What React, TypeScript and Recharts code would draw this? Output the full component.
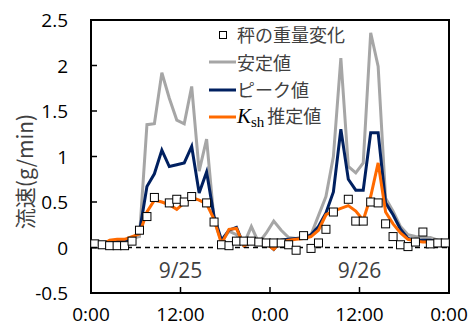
import {
  ComposedChart,
  Line,
  Scatter,
  XAxis,
  YAxis,
  ReferenceLine,
  ReferenceArea,
  ReferenceDot,
  Legend,
} from "recharts";

// hours since 9/25 0:00 (hourly values, plotted mid-hour)
const hours = [
  0.5, 1.5, 2.5, 3.5, 4.5, 5.5, 6.5, 7.5, 8.5, 9.5, 10.5, 11.5,
  12.5, 13.5, 14.5, 15.5, 16.5, 17.5, 18.5, 19.5, 20.5, 21.5, 22.5, 23.5,
  24.5, 25.5, 26.5, 27.5, 28.5, 29.5, 30.5, 31.5, 32.5, 33.5, 34.5, 35.5,
  36.5, 37.5, 38.5, 39.5, 40.5, 41.5, 42.5, 43.5, 44.5, 45.5, 46.5, 47.5,
];

// 秤の重量変化
const scaleChange = [
  0.04, 0.03, 0.02, 0.02, 0.02, 0.07, 0.19, 0.34, 0.55, null, 0.49, 0.53,
  0.5, 0.56, null, 0.49, 0.28, 0.03, 0.02, 0.07, 0.07, 0.07, 0.06, 0.05,
  0.05, 0.05, 0.03, -0.03, 0.13, -0.01, 0.05, 0.2, 0.39, null, 0.53, 0.29,
  0.29, 0.5, 0.49, 0.26, 0.12, 0.03, 0.01, 0.06, 0.17, 0.04, 0.05, 0.05,
];

// 安定値
const stableValue = [
  0.0, 0.02, 0.05, 0.07, 0.08, 0.1, 0.12, 1.35, 1.36, 1.92, 1.64, 1.4,
  1.36, 1.77, 0.84, 1.19, 0.3, 0.06, 0.18, 0.14, 0.04, 0.23, 0.05, 0.16,
  0.29, 0.19, 0.11, 0.1, 0.12, 0.14, 0.35, 0.56, 1.0, 2.08, 0.89, 0.82,
  0.93, 2.36, 1.99, 0.54, 0.4, 0.23, 0.14, 0.12, 0.11, 0.11, 0.08, 0.04,
];

// ピーク値
const peakValue = [
  0.01, 0.02, 0.06, 0.07, 0.08, 0.1, 0.17, 0.67, 0.81, 1.07, 0.89, 0.91,
  0.93, 1.11, 0.6, 0.83, 0.34, 0.08, 0.19, 0.22, 0.02, 0.06, 0.05, 0.05,
  -0.02, 0.08, 0.09, 0.1, 0.1, 0.14, 0.23, 0.38, 0.61, 1.3, 0.75, 0.63,
  0.63, 1.26, 1.26, 0.49, 0.36, 0.2, 0.1, 0.08, 0.08, 0.08, 0.07, 0.04,
];

// Ksh推定値
const kshValue = [
  0.02, 0.03, 0.08, 0.09, 0.09, 0.12, 0.15, 0.39, 0.52, 0.5, 0.47, 0.42,
  0.49, 0.55, 0.52, 0.48, 0.31, 0.04, 0.2, 0.21, 0.02, 0.05, 0.05, 0.04,
  -0.02, 0.06, 0.08, 0.09, 0.1, 0.12, 0.19, 0.36, 0.4, 0.43, 0.46, 0.4,
  0.3, 0.56, 0.93, 0.39, 0.26, 0.16, 0.09, 0.07, 0.06, 0.06, 0.06, 0.04,
];

const xTicks = [0, 12, 24, 36, 48];
const xTickLabels = ["0:00", "12:00", "0:00", "12:00", "0:00"];
const yTicks = [-0.5, 0, 0.5, 1, 1.5, 2, 2.5];
const dayLabels = ["9/25", "9/26"];
const dayCenters = [12, 36];

const GRAY = "#A6A6A6";
const NAVY = "#002060";
const ORANGE = "#FF6A00";
const NUM_FONT = "'Open Sans', sans-serif";
const JP_FONT = "'Noto Sans CJK JP', sans-serif";

const rows = hours.map((h, i) => ({
  h,
  stable: stableValue[i],
  peak: peakValue[i],
  ksh: kshValue[i],
}));
const scaleRows = hours
  .map((h, i) => ({ h, scale: scaleChange[i] }))
  .filter((r) => r.scale !== null);

function XTick({ x, y, payload, index }: any) {
  return (
    <g>
      <line x1={x} y1={y} x2={x} y2={y - 6} stroke="#000" strokeWidth={1.5} />
      <text x={x} y={y + 21} textAnchor="middle" dominantBaseline="central" fontSize={19} fontFamily={NUM_FONT} fill="#000">
        {xTickLabels[index] ?? payload.value}
      </text>
    </g>
  );
}

function YTick({ x, y, payload }: any) {
  return (
    <g>
      <line x1={x} y1={y} x2={x + 6} y2={y} stroke="#000" strokeWidth={1.5} />
      <text x={x - 23} y={y} textAnchor="end" dominantBaseline="central" fontSize={19} fontFamily={NUM_FONT} fill="#000">
        {String(payload.value)}
      </text>
    </g>
  );
}

function YLabel({ viewBox }: any) {
  const cx = viewBox.x + 24;
  const cy = viewBox.y + viewBox.height / 2 + 15;
  return (
    <text
      transform={`translate(${cx}, ${cy}) rotate(-90)`}
      textAnchor="middle"
      dominantBaseline="central"
      fontSize={21}
      fontFamily={JP_FONT}
      fill="#404040"
    >
      流速(g/min)
    </text>
  );
}

function LegendBox() {
  const row: React.CSSProperties = { display: "flex", alignItems: "center", height: 27.5 };
  const icon: React.CSSProperties = { width: 29, display: "flex", justifyContent: "center" };
  const lineIcon = (color: string) => (
    <svg width={27} height={6}>
      <line x1={0} y1={3} x2={27} y2={3} stroke={color} strokeWidth={3} />
    </svg>
  );
  return (
    <div style={{ fontFamily: JP_FONT, fontSize: 18, color: "#404040", lineHeight: "27px", whiteSpace: "nowrap" }}>
      <div style={row}>
        <span style={icon}>
          <svg width={8} height={8}>
            <rect x={0.5} y={0.5} width={7} height={7} fill="#fff" stroke="#000" strokeWidth={1} />
          </svg>
        </span>
        <span>秤の重量変化</span>
      </div>
      <div style={row}>
        <span style={icon}>{lineIcon(GRAY)}</span>
        <span>安定値</span>
      </div>
      <div style={row}>
        <span style={icon}>{lineIcon(NAVY)}</span>
        <span>ピーク値</span>
      </div>
      <div style={row}>
        <span style={icon}>{lineIcon(ORANGE)}</span>
        <span>
          <span style={{ fontFamily: "'Liberation Serif', serif", fontStyle: "italic", fontSize: 21, color: "#000" }}>K</span>
          <span style={{ fontFamily: "'Liberation Serif', serif", fontSize: 15, color: "#000", position: "relative", top: 4 }}>sh</span>
          <span style={{ marginLeft: 3 }}>推定値</span>
        </span>
      </div>
    </div>
  );
}

export default function App() {
  return (
    <div style={{ position: "absolute", left: 0, top: 0, width: 471, height: 333, background: "#fff" }}>
      <ComposedChart width={471} height={333} data={rows} margin={{ top: 20, right: 22, bottom: 0, left: 0 }}>
        <XAxis
          dataKey="h"
          type="number"
          domain={[0, 48]}
          ticks={xTicks}
          interval={0}
          height={40}
          axisLine={false}
          tickLine={false}
          tickSize={0}
          tickMargin={0}
          tick={<XTick />}
        />
        <YAxis
          type="number"
          domain={[-0.5, 2.5]}
          ticks={yTicks}
          interval={0}
          width={91}
          axisLine={false}
          tickLine={false}
          tickSize={0}
          tickMargin={0}
          tick={<YTick />}
          label={<YLabel />}
        />
        <ReferenceLine y={0} stroke="#000" strokeWidth={1.5} strokeDasharray="5 4" />
        <Line dataKey="stable" stroke={GRAY} strokeWidth={3} dot={false} isAnimationActive={false} />
        <Line dataKey="peak" stroke={NAVY} strokeWidth={3} dot={false} isAnimationActive={false} />
        <Line dataKey="ksh" stroke={ORANGE} strokeWidth={3} dot={false} isAnimationActive={false} />
        <Scatter
          data={scaleRows}
          dataKey="scale"
          isAnimationActive={false}
          shape={(p: any) => (
            <rect x={p.cx - 4} y={p.cy - 4} width={8} height={8} fill="#fff" stroke="#000" strokeWidth={1} />
          )}
        />
        {dayLabels.map((d, i) => (
          <ReferenceDot
            key={d}
            x={dayCenters[i]}
            y={-0.25}
            r={0}
            fill="none"
            stroke="none"
            label={{ value: d, position: "center", fontSize: 21, fontFamily: NUM_FONT, fill: "#404040" }}
          />
        ))}
        <ReferenceArea x1={0} x2={48} y1={-0.5} y2={2.5} fill="none" stroke="#000" strokeWidth={2} ifOverflow="visible" />
        <Legend
          layout="vertical"
          align="center"
          verticalAlign="middle"
          content={<LegendBox />}
          wrapperStyle={{ left: 208, top: 21, width: "auto" }}
        />
      </ComposedChart>
    </div>
  );
}
